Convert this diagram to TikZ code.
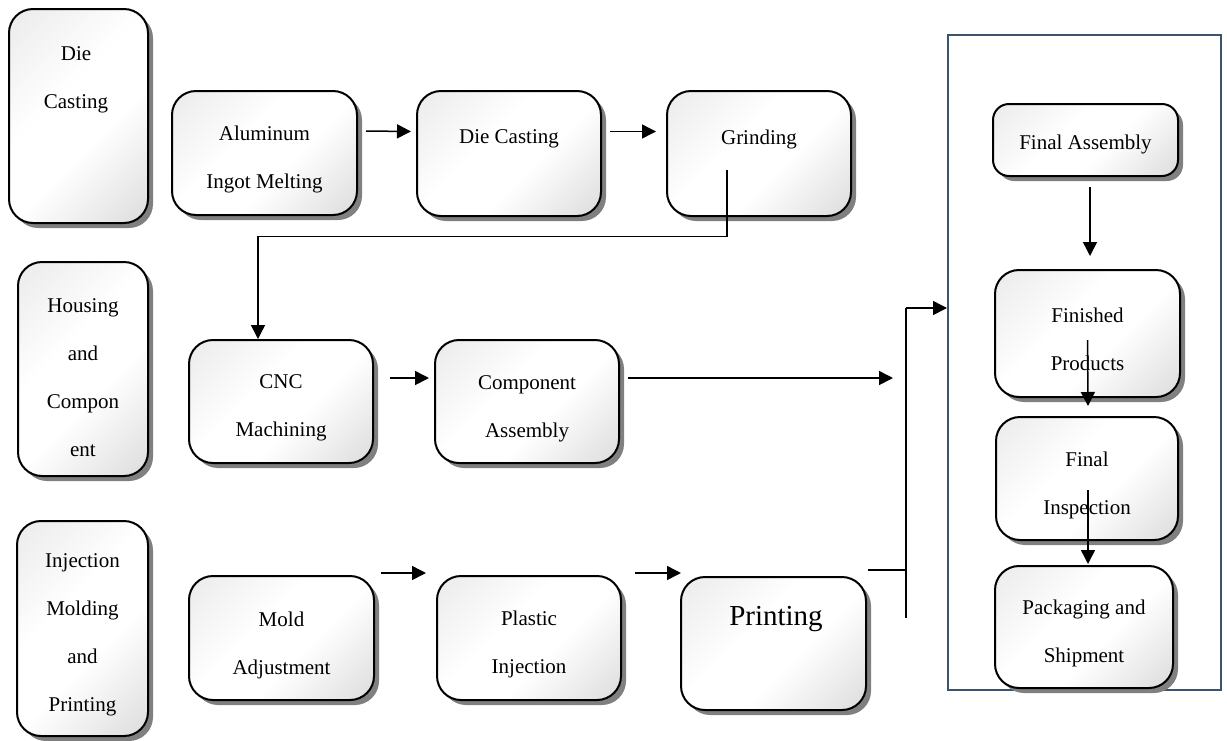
\documentclass[tikz,border=0pt]{standalone}
\usepackage{fontspec}
\setmainfont{Liberation Serif}
\usetikzlibrary{arrows.meta, positioning, shadows}
\definecolor{framecol}{RGB}{59,84,110}
\pgfdeclareverticalshading{boxshade}{100bp}{color(0bp)=(black!22); color(18bp)=(black!12);
  color(42bp)=(white); color(58bp)=(white); color(82bp)=(black!7); color(100bp)=(black!13)}

\begin{document}
\begin{tikzpicture}[>={Triangle[length=7pt,width=7pt]}, x=0.5pt, y=-0.5pt,
  box/.style={draw, line width=1pt, rounded corners=12pt, align=center,
    shade, shading=boxshade, shading angle=45,
    drop shadow={shadow xshift=2.5pt, shadow yshift=-2.5pt, fill=black!50, opacity=1},
    font=\fontsize{10.5}{24}\selectfont, inner sep=0pt},
  txt/.style={align=center, font=\fontsize{10.5}{24}\selectfont},
  conn/.style={line width=0.75pt}]
  \useasboundingbox (0,0) rectangle (1227,740);

  % stage boxes on the left
  \node[box, minimum width=69.5pt, minimum height=107pt] (dieL) at (78.5,116) {};
  \node[txt] (dieLtxt) at (76,80) {Die\\Casting};
  \node[box, minimum width=65pt, minimum height=107pt] (housing) at (83,369) {};
  \node[txt] (housingtxt) at (83,378) {Housing\\and\\Compon\\ent};
  \node[box, minimum width=65.5pt, minimum height=107.5pt] (molding) at (82.5,628.5) {};
  \node[txt] (moldingtxt) at (82.5,635) {Injection\\Molding\\and\\Printing};

  % die casting row
  \node[box, minimum width=92.5pt, minimum height=62pt] (melt) at (264.5,153) {};
  \node[txt] (melttxt) at (264.5,159) {Aluminum\\Ingot Melting};
  \node[box, minimum width=92pt, minimum height=62.5pt] (dieM) at (509,153.5) {};
  \node[txt] (dieMtxt) at (509,139) {Die Casting};
  \node[box, minimum width=92pt, minimum height=62.5pt] (grind) at (759,153.5) {};
  \node[txt] (grindtxt) at (759,139) {Grinding};

  % housing row
  \node[box, minimum width=92pt, minimum height=61.5pt] (cnc) at (281,401.5) {};
  \node[txt] (cnctxt) at (281,408) {CNC\\Machining};
  \node[box, minimum width=92pt, minimum height=61.5pt] (compo) at (527,401.5) {};
  \node[txt] (compotxt) at (527,409) {Component\\Assembly};

  % injection row
  \node[box, minimum width=92.5pt, minimum height=62pt] (mold) at (281.5,638) {};
  \node[txt] (moldtxt) at (281.5,645) {Mold\\Adjustment};
  \node[box, minimum width=92pt, minimum height=62pt] (plastic) at (529,638) {};
  \node[txt] (plastictxt) at (529,644) {Plastic\\Injection};
  \node[box, minimum width=92.5pt, minimum height=66.5pt] (print) at (773.5,643.5) {};
  \node[font=\fontsize{14.5}{17}\selectfont] (printtxt) at (776,619) {Printing};

  % final stage frame
  \node[draw=framecol, line width=1pt, minimum width=136.5pt, minimum height=327.5pt] (frame) at (1084.5,362.5) {};
  \node[box, rounded corners=8pt, minimum width=92.5pt, minimum height=36pt] (finAsm) at (1085.5,140) {};
  \node[txt] (finAsmtxt) at (1085.5,144) {Final Assembly};
  \node[box, minimum width=92.5pt, minimum height=63.5pt] (finProd) at (1087.5,333.5) {};
  \node[txt] (finProdtxt) at (1087.5,339) {Finished\\Products};
  \node[box, minimum width=91pt, minimum height=61.5pt] (finInsp) at (1087,478.5) {};
  \node[txt] (finInsptxt) at (1087,485) {Final\\Inspection};
  \node[box, minimum width=89pt, minimum height=61pt] (pack) at (1084,627) {};
  \node[txt] (packtxt) at (1084,633) {Packaging and\\Shipment};

  \coordinate (cmpEnd) at (893,378);
  \coordinate (jnTop) at (906,308);
  \coordinate (jnBot) at (906,618);

  % connectors
  \draw[conn, ->] ([xshift=4pt,yshift=11pt]melt.east) -- ([xshift=-2.5pt,yshift=11pt]dieM.west);
  \draw[conn, ->] ([xshift=4pt,yshift=11pt]dieM.east) -- ([xshift=-5pt,yshift=11pt]grind.west);
  \draw[conn, ->] ([xshift=-16pt,yshift=-8pt]grind.center) -- ++(0,67) -| ([xshift=-11.5pt]cnc.north);
  \draw[conn, ->] ([xshift=8pt,yshift=11.75pt]cnc.east) -- ([xshift=-2.5pt,yshift=11.75pt]compo.west);
  \draw[conn, ->] ([xshift=4pt,yshift=11.75pt]compo.east) -- (cmpEnd);
  \draw[conn, ->] ([xshift=3pt,yshift=32.5pt]mold.east) -- ([xshift=-5pt,yshift=32.5pt]plastic.west);
  \draw[conn, ->] ([xshift=6.5pt,yshift=32.5pt]plastic.east) -- ([xshift=0.5pt,yshift=35.25pt]print.west);
  \draw[conn] ([xshift=0.5pt,yshift=36.75pt]print.east) -- (jnBot |- 0,570);
  \draw[conn] (jnBot) -- (jnTop);
  \draw[conn, ->] (jnTop) -- (frame.west |- jnTop);
  \draw[conn, ->] ([xshift=2.25pt,yshift=-5pt]finAsm.south) -- ([xshift=1.25pt,yshift=6.5pt]finProd.north);
  \draw[conn, ->] ([yshift=-3.25pt]finProd.center) -- ([xshift=0.5pt,yshift=5pt]finInsp.north);
  \draw[conn, ->] ([xshift=0.5pt,yshift=-5.75pt]finInsp.center) -- ([xshift=2pt,yshift=0.5pt]pack.north);
\end{tikzpicture}
\end{document}
